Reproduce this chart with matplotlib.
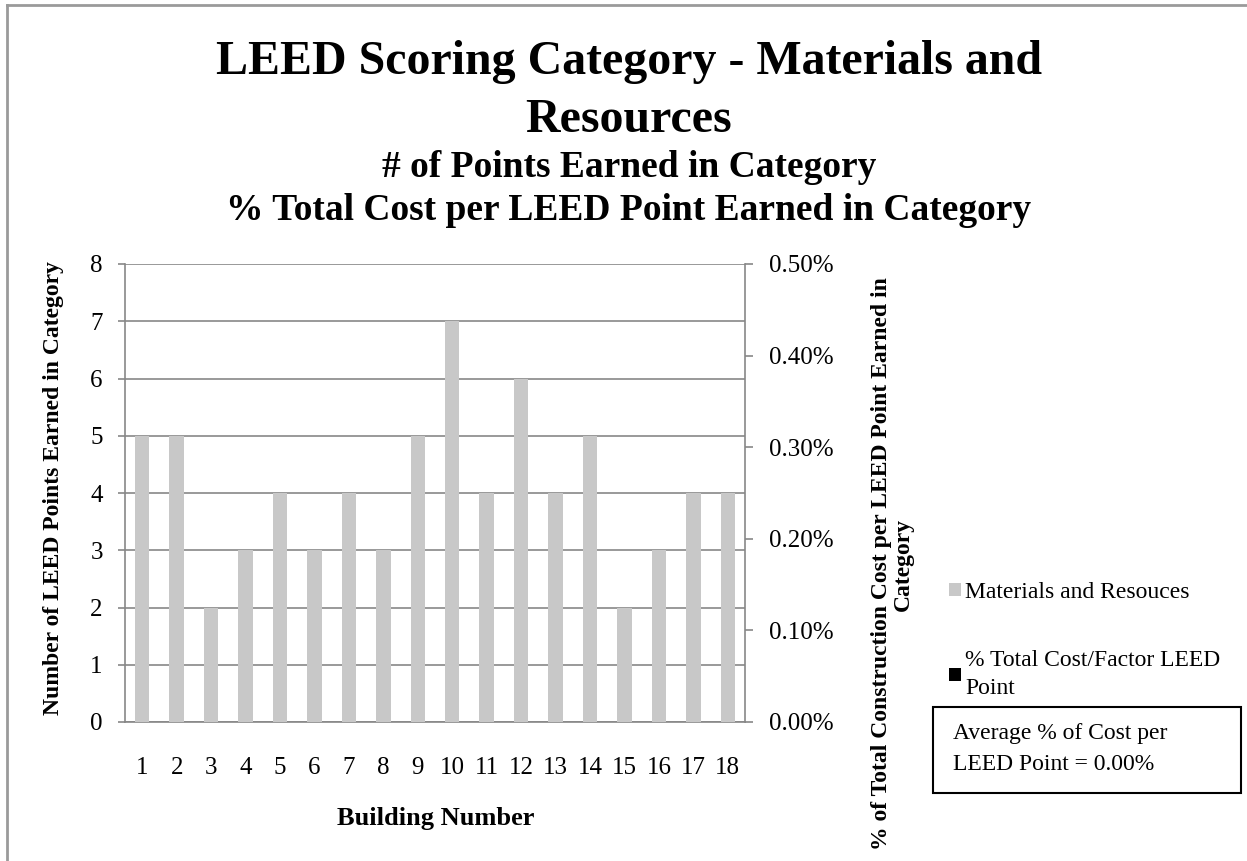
import matplotlib
matplotlib.use("Agg")
import matplotlib.pyplot as plt
from matplotlib.patches import Rectangle
from matplotlib.lines import Line2D
from matplotlib.ticker import FuncFormatter

# chart data
buildings = list(range(1, 19))
mr_points = [5, 5, 2, 3, 4, 3, 4, 3, 5, 7, 4, 6, 4, 5, 2, 3, 4, 4]
pct_cost = [0.0, 0.0, 0.0, 0.0, 0.0, 0.0, 0.0, 0.0, 0.0,
            0.0, 0.0, 0.0, 0.0, 0.0, 0.0, 0.0, 0.0, 0.0]
series_names = ["Materials and Resouces", "% Total Cost/Factor LEED\nPoint"]
avg_note = "Average % of Cost per\nLEED Point = 0.00%"

W, H = 1247, 861
plt.rcParams['font.family'] = ['Liberation Serif', 'DejaVu Serif']

fig = plt.figure(figsize=(W / 100, H / 100), dpi=100)
ax = fig.add_axes([125 / W, 1 - 722 / H, (745 - 125) / W, (722 - 264) / H])
ax2 = ax.twinx()

grid_c = '#878787'

b1 = ax.bar(buildings, mr_points, width=0.42, color='#C8C8C8', zorder=3)
b2 = ax2.bar(buildings, pct_cost, width=0.42, color='black', zorder=3)

ax.set_xlim(0.5, 18.5)
ax.set_ylim(0, 8)
ax.set_yticks(range(0, 9))
ax2.set_ylim(0, 0.005)
ax2.set_yticks([0, 0.001, 0.002, 0.003, 0.004, 0.005])
ax2.yaxis.set_major_formatter(FuncFormatter(lambda v, p: "%.2f%%" % (v * 100)))
ax.set_xticks(buildings)

ax.grid(axis='y', color=grid_c, linewidth=1.2, zorder=0)
ax.set_axisbelow(True)

for a in (ax, ax2):
    for s in a.spines.values():
        s.set_visible(False)
ax.spines['left'].set_visible(True)
ax.spines['bottom'].set_visible(True)
ax2.spines['right'].set_visible(True)
for s in (ax.spines['left'], ax.spines['bottom'], ax2.spines['right']):
    s.set_color(grid_c)
    s.set_linewidth(1.2)

ax.tick_params(axis='y', direction='out', length=5, width=1.2, color=grid_c,
               labelsize=18, pad=11)
ax.tick_params(axis='x', length=0, labelsize=18, pad=25)
ax2.tick_params(axis='y', direction='out', length=6, width=1.2, color=grid_c,
                labelsize=18, pad=11)

# titles
fig.text(629 / W, 1 - 74 / H, "LEED Scoring Category - Materials and",
         ha='center', va='baseline', fontsize=34.5, fontweight='bold')
fig.text(629 / W, 1 - 132 / H, "Resources",
         ha='center', va='baseline', fontsize=34.5, fontweight='bold')
fig.text(629 / W, 1 - 177 / H, "# of Points Earned in Category",
         ha='center', va='baseline', fontsize=27, fontweight='bold')
fig.text(629 / W, 1 - 220 / H, "% Total Cost per LEED Point Earned in Category",
         ha='center', va='baseline', fontsize=27, fontweight='bold')

# axis labels
fig.text(436 / W, 1 - 818 / H, "Building Number", ha='center', va='center',
         fontsize=19, fontweight='bold')
fig.text(54 / W, 1 - 488 / H, "Number of LEED Points Earned in Category",
         ha='center', va='center', rotation=90, fontsize=17, fontweight='bold')
fig.text(892 / W, 1 - 564 / H,
         "% of Total Construction Cost per LEED Point Earned in\nCategory",
         ha='center', va='center', rotation=90, fontsize=17, fontweight='bold',
         multialignment='center', linespacing=1.05)

# legend
leg = fig.legend([b1, b2], series_names, loc='upper left',
                 bbox_to_anchor=(937 / W, 1 - 570 / H), frameon=False,
                 fontsize=17, handlelength=0.5, handleheight=0.5,
                 handletextpad=0.2, labelspacing=2.0, borderpad=0)
for t in leg.get_texts():
    t.set_linespacing(1.45)

# average note box
fig.add_artist(Rectangle((933 / W, 1 - 793 / H), (1241 - 933) / W, (793 - 707) / H,
                         transform=fig.transFigure, fill=False,
                         edgecolor='black', linewidth=1.5))
fig.text(953 / W, 1 - 749 / H, avg_note, ha='left', va='center',
         fontsize=17, linespacing=1.6)

# chart frame
frame_c = '#9a9a9a'
fig.add_artist(Line2D([7 / W, 7 / W], [0, 1 - 5 / H], transform=fig.transFigure,
                      color=frame_c, linewidth=2))
fig.add_artist(Line2D([7 / W, 1], [1 - 5 / H, 1 - 5 / H], transform=fig.transFigure,
                      color=frame_c, linewidth=2))

fig.savefig("out.png", dpi=100)
